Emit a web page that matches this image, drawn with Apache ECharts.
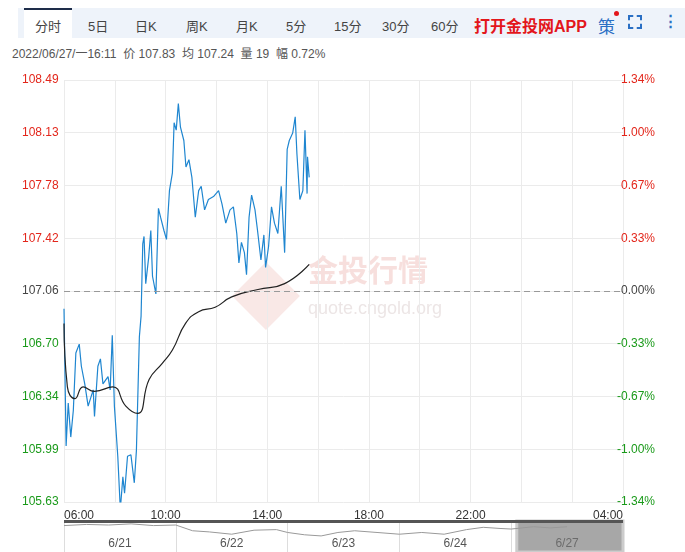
<!DOCTYPE html>
<html>
<head>
<meta charset="utf-8">
<script src="https://cdn.jsdelivr.net/npm/echarts@6/dist/echarts.min.js"></script>
<style>
html,body{margin:0;padding:0;width:100%;height:100%;overflow:hidden;background:#fff;font-family:"Liberation Sans","Noto Sans CJK SC",sans-serif;}
#bar{position:absolute;left:18px;top:8px;width:667px;height:30px;background:#eef3fa;font-size:13px;color:#444;}
#bar span{position:absolute;top:8px;}
#tab{position:absolute;left:6px;top:0;width:48px;height:30px;background:#fff;border-top:2px solid #1e2d4a;box-sizing:border-box;}
#info{position:absolute;left:12px;top:44px;font-size:12px;color:#555;}
#chart{position:absolute;left:0;top:0;width:685px;height:552px;}
</style>
</head>
<body>
<div id="bar"><div id="tab"></div>
<span style="left:17px">分时</span><span style="left:70px">5日</span><span style="left:117px">日K</span><span style="left:168px">周K</span><span style="left:218px">月K</span><span style="left:268px">5分</span><span style="left:316px">15分</span><span style="left:364px">30分</span><span style="left:413px">60分</span>
<span style="left:456px;top:5px;color:#e3161b;font-size:16px;font-weight:bold">打开金投网APP</span>
<span style="left:580px;top:5px;color:#2a6fc4;font-size:17px">策</span><span style="left:596px;top:3px;width:5px;height:5px;border-radius:3px;background:#e3161b"></span>
<span style="left:610px;top:7px;width:14px;height:14px;border:2px dashed #2a6fc4;box-sizing:border-box"></span><span style="left:645px;top:4px;color:#2a6fc4;font-size:15px;font-weight:bold">⋮</span>
</div>
<div id="info">2022/06/27/一16:11 &nbsp;价 107.83 &nbsp;均 107.24 &nbsp;量 19 &nbsp;幅 0.72%</div>
<div id="chart"></div>
<script>
// 分时 数据 (分钟, 从 06:00 起)
var priceMin = [0,5,10,16,22,28,36,41,49,57,69,72,80,86,92,104,109,114,119,127,133,139,143,150,158,166,171,178,182,186,189,193,200,205,209,217,223,228,236,242,249,256,260,265,270,275,283,288,295,302,310,318,324,332,341,353,365,373,382,392,400,408,413,419,426,431,437,443,451,457,465,472,476,483,490,497,505,513,521,527,532,540,546,550,557,564,569,574,575,579];
var priceVal = [106.94,106.01,106.30,106.07,106.25,106.64,106.70,106.55,106.43,106.28,106.39,106.21,106.55,106.60,106.43,106.48,106.39,106.76,106.28,105.94,105.58,105.80,105.69,105.94,105.95,105.76,105.98,106.75,106.89,107.38,107.43,107.11,107.29,107.47,107.16,107.04,107.62,107.56,107.47,107.41,107.74,107.86,108.20,108.15,108.33,108.17,108.08,107.90,107.95,107.83,107.56,107.74,107.77,107.61,107.68,107.70,107.74,107.65,107.52,107.61,107.63,107.45,107.25,107.39,107.32,107.17,107.56,107.71,107.61,107.47,107.27,107.44,107.22,107.36,107.63,107.52,107.45,107.77,107.32,108.02,108.08,108.13,108.24,107.99,107.68,107.74,108.15,107.72,107.97,107.83];
var avgMin = [0,8,26,45,72,115,146,174,201,232,256,287,318,357,396,458,521,579];
var avgVal = [106.84,106.41,106.33,106.41,106.38,106.41,106.28,106.23,106.46,106.57,106.66,106.84,106.92,106.95,107.02,107.07,107.11,107.24];
var leftTicks = ['105.63','105.99','106.34','106.70','107.06','107.42','107.78','108.13','108.49'];
var rightTicks = ['-1.34%','-1.00%','-0.67%','-0.33%','0.00%','0.33%','0.67%','1.00%','1.34%'];
var timeTicks = ['06:00','','10:00','','14:00','','18:00','','22:00','','','04:00'];
// 缩略图
var navDays = ['6/21','6/22','6/23','6/24','6/27'];
var navPos = [0,0.2,0.4,0.6,0.8,1.0,1.15,1.3,1.5,1.7,1.9,2.0,2.15,2.3,2.45,2.6,2.8,3.0,3.2,3.4,3.6,3.75,3.9,4.0,4.1,4.2,4.35,4.5];
var navVal = [108.1,108.3,108.2,108.4,108.1,108.2,107.2,107.0,106.6,107.3,107.4,106.9,106.5,106.3,106.9,107.2,106.9,106.6,106.9,106.6,107.4,107.8,107.6,107.5,107.7,107.9,107.7,107.9];

var yMin = 105.63, yMax = 108.49, yStep = (yMax - yMin) / 8;
var toPairs = function(xs, ys){ return xs.map(function(x,i){ return [x, ys[i]]; }); };
var idx = function(v){ return Math.round((v - yMin) / yStep); };
var tickRich = {c0:{color:'#1a9a1a'},c1:{color:'#1a9a1a'},c2:{color:'#1a9a1a'},c3:{color:'#1a9a1a'},c4:{color:'#444'},c5:{color:'#e3261b'},c6:{color:'#e3261b'},c7:{color:'#e3261b'},c8:{color:'#e3261b'}};

var chart = echarts.init(document.getElementById('chart'), null, {width: 685, height: 552});
chart.setOption({
    animation: false,
    textStyle: {fontFamily: 'Liberation Sans'},
    grid: [
        {left: 64, right: 62, top: 80, bottom: 50},
        {left: 64, right: 62, top: 521, height: 31}
    ],
    graphic: [
        {type: 'text', left: 308, top: 255, style: {text: '金投行情', font: 'bold 30px "Noto Sans CJK SC"', fill: 'rgba(220,110,100,0.22)'}},
        {type: 'text', left: 308, top: 300, style: {text: 'quote.cngold.org', font: '18px "Liberation Sans"', fill: 'rgba(200,180,180,0.35)'}},
        {type: 'rect', left: 232, top: 262, rotation: Math.PI / 4, shape: {width: 48, height: 48}, style: {fill: 'rgba(220,110,100,0.16)'}}
    ],
    xAxis: [
        {type: 'value', gridIndex: 0, min: 0, max: 1320, interval: 120,
         axisLine: {show: false}, axisTick: {show: false},
         splitLine: {lineStyle: {color: '#ebebeb'}},
         axisLabel: {color: '#333', fontSize: 12, margin: 8, showMinLabel: true, showMaxLabel: true,
            formatter: function(v){ return timeTicks[v / 120]; },
            alignMinLabel: 'left', alignMaxLabel: 'right'}},
        {type: 'category', gridIndex: 1, data: navDays, position: 'bottom',
         axisLine: {show: false}, axisTick: {show: false},
         splitLine: {show: true, interval: 0, lineStyle: {color: '#ddd'}},
         axisLabel: {inside: true, margin: 2, color: '#555', fontSize: 12}},
        {type: 'value', gridIndex: 1, min: 0, max: 5, show: false}
    ],
    yAxis: [
        {type: 'value', gridIndex: 0, min: yMin, max: yMax, interval: yStep,
         axisLine: {show: false}, axisTick: {show: false},
         splitLine: {lineStyle: {color: '#ebebeb'}},
         axisLabel: {margin: 42, align: 'left', fontSize: 12,
            formatter: function(v){ return '{c' + idx(v) + '|' + leftTicks[idx(v)] + '}'; },
            rich: tickRich}},
        {type: 'value', gridIndex: 0, min: yMin, max: yMax, interval: yStep, position: 'right',
         axisLine: {show: false}, axisTick: {show: false}, splitLine: {show: false},
         axisLabel: {margin: 32, align: 'right', fontSize: 12,
            formatter: function(v){ return '{c' + idx(v) + '|' + rightTicks[idx(v)] + '}'; },
            rich: tickRich}},
        {type: 'value', gridIndex: 1, min: 103.5, max: 108.9, show: false}
    ],
    series: [
        {type: 'line', xAxisIndex: 0, yAxisIndex: 0, data: toPairs(priceMin, priceVal),
         symbol: 'none', lineStyle: {color: '#1f86d0', width: 1.2},
         markLine: {silent: true, symbol: 'none', label: {show: false},
            lineStyle: {color: '#999', type: [6, 4], width: 1}, data: [{yAxis: 107.06}]}},
        {type: 'line', xAxisIndex: 0, yAxisIndex: 0, data: toPairs(avgMin, avgVal),
         symbol: 'none', smooth: true, lineStyle: {color: '#222', width: 1.2}},
        {type: 'line', xAxisIndex: 2, yAxisIndex: 2, data: toPairs(navPos, navVal),
         symbol: 'none', lineStyle: {color: '#999', width: 1},
         markArea: {silent: true, itemStyle: {color: 'rgba(120,120,120,0.65)', borderColor: '#ccc', borderWidth: 3},
            data: [[{xAxis: 4.05}, {xAxis: 5}]]},
         markLine: {silent: true, symbol: 'none', label: {show: false},
            lineStyle: {color: '#555', type: 'solid', width: 3}, data: [{yAxis: 108.9}]}}
    ]
});
</script>
</body>
</html>
